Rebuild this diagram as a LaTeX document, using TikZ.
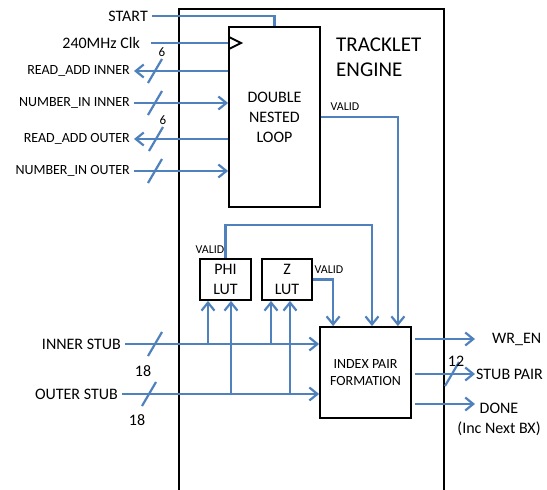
\documentclass[tikz,border=0pt]{standalone}
\usepackage{fontspec}
\setmainfont{Carlito}
\usetikzlibrary{arrows.meta, positioning}
\definecolor{wireblue}{HTML}{4F81BD}
\tikzset{
  sig/.style={draw=wireblue, line width=2.2pt, >={Straight Barb[length=8pt, width=13pt]}},
  blk/.style={draw, line width=1.8pt, fill=white, align=center},
  lbl/.style={font=\fontsize{16}{19.5}\selectfont, inner sep=4pt},
  small/.style={font=\fontsize{14}{17.5}\selectfont, inner sep=4pt},
  tiny/.style={font=\fontsize{12}{14}\selectfont, inner sep=1pt},
}
\begin{document}
\begin{tikzpicture}[x=1pt, y=-1pt]
        \useasboundingbox (0,0) rectangle (547,490);
        % Engine outline
        \draw[line width=1.8pt] (179,490) -- (179,9) -- (444,9) -- (444,490);
        \node[anchor=west, align=left, inner sep=0pt, font=\fontsize{21}{25}\selectfont] (title) at (336,57.5) {TRACKLET\\ENGINE};
        % Blocks
        \node[blk, lbl, font=\fontsize{16}{20}\selectfont, minimum width=91pt, minimum height=180pt] (dnl) at (274.5,117) {DOUBLE\\NESTED\\LOOP};
        \node[blk, lbl, minimum width=51pt, minimum height=41pt] (philut) at (225.5,279.5) {PHI\\LUT};
        \node[blk, lbl, minimum width=50pt, minimum height=41pt] (zlut) at (287,279.5) {Z\\LUT};
        \node[blk, small, minimum width=91pt, minimum height=91pt] (ipf) at (365.5,372.5) {INDEX PAIR\\FORMATION};
        \draw[line width=1.8pt] (229,37) -- (241,43) -- (229,49);
        % Left labels
        \coordinate (clkin) at (151,43);
        \node[lbl, anchor=east] (start) at (152,16) {START};
        \node[lbl, left=7pt of clkin] (clk) {240MHz Clk};
        \node[small, anchor=east] (rdin) at (134,71) {READ\_ADD INNER};
        \node[small, anchor=east] (nin) at (134,103) {NUMBER\_IN INNER};
        \node[small, anchor=east] (rdout) at (134,139) {READ\_ADD OUTER};
        \node[small, anchor=east] (nout) at (134,171) {NUMBER\_IN OUTER};
        \node[lbl, anchor=east] (instub) at (125,344) {INNER STUB};
        \node[lbl, anchor=east] (outstub) at (122,394) {OUTER STUB};
        % Loop connections
        \draw[sig] (start.east) -| (dnl.north);
        \draw[sig] (clkin) -- (clkin -| dnl.west);
        \draw[sig, <-] (rdin.east) -- (rdin.east -| dnl.west);
        \draw[sig, ->] (nin.east) -- (nin.east -| dnl.west);
        \draw[sig, <-] (rdout.east) -- (rdout.east -| dnl.west);
        \draw[sig, ->] (nout.east) -- (nout.east -| dnl.west);
        % Stubs
        \draw[sig, ->] (instub.east) -- (instub.east -| ipf.west);
        \draw[sig, ->] (outstub.east) -- (outstub.east -| ipf.west);
        \foreach \x/\y/\b in {208/344/philut, 231/394/philut, 271/344/zlut, 290/394/zlut} {
            \coordinate (tap) at (\x,\y);
            \draw[sig, ->] (tap) -- (tap |- \b.south);
        }
        % Valid signals
        \coordinate (pv) at (372,225);
        \draw[sig, ->] (dnl.east) -| ([xshift=-14pt]ipf.north east);
        \draw[sig, ->] (philut.north) |- (pv) -- (pv |- ipf.north);
        \draw[sig, ->] (zlut.east) -| ([xshift=14pt]ipf.north west);
        \node[tiny] (vdnl) at (345,107) {VALID};
        \node[tiny] (vphi) at (210,250) {VALID};
        \node[tiny] (vz) at (329,270) {VALID};
        % Outputs
        \coordinate (wrtip) at (475,339);
        \coordinate (sptip) at (475,374);
        \coordinate (dntip) at (475,404);
        \foreach \t in {wrtip, sptip, dntip} {
            \draw[sig, ->, shorten <=3pt] (ipf.east |- \t) -- (\t);
        }
        \node[lbl, right=13pt of wrtip] (wren) {WR\_EN};
        \node[lbl, right=-3pt of sptip] (stubpair) {STUB PAIR};
        \node[lbl, align=center] (done) at (499,419.5) {DONE\\(Inc Next BX)};
        % Bus widths
        \foreach \x/\y in {155/71, 155/103, 156/139, 155/171, 155/344, 149/394, 452/374} {
            \draw[sig] (\x,\y) ++(-7,12) -- ++(14,-24);
        }
        \node[tiny, font=\fontsize{13}{15}\selectfont] (wa) at (162,52) {6};
        \node[tiny, font=\fontsize{13}{15}\selectfont] (wb) at (163,120) {6};
        \node[lbl, inner sep=1pt] (wc) at (143,371) {18};
        \node[lbl, inner sep=1pt] (wd) at (137,420) {18};
        \node[lbl, inner sep=1pt] (we) at (456,361) {12};
\end{tikzpicture}
\end{document}
